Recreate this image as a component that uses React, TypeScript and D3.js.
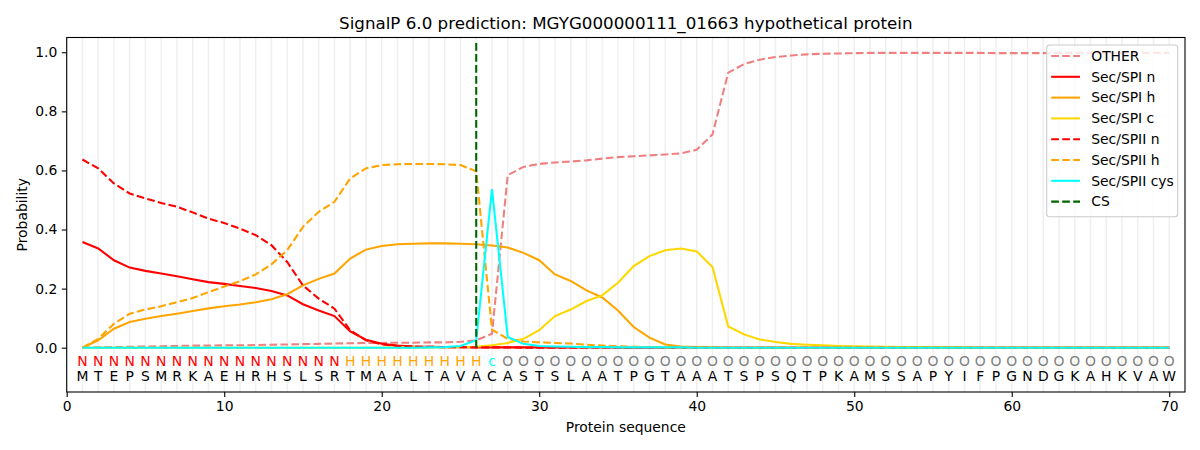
import React, { useEffect, useRef } from "react";
import * as d3 from "d3";

const residues = "MTEPSMRKAEHRHSLSRTMAALTAVACASTSLAATPGTAAATSPSQTPKAMSSAPYIFPGNDGKAHKVAW".split("");
const regionLabels = "NNNNNNNNNNNNNNNNNHHHHHHHHHcOOOOOOOOOOOOOOOOOOOOOOOOOOOOOOOOOOOOOOOOOOO".split("");

const other = [
  0.0, 0.001, 0.002, 0.003, 0.004, 0.005, 0.006, 0.007, 0.007, 0.008,
  0.008, 0.009, 0.01, 0.011, 0.012, 0.013, 0.014, 0.015, 0.016, 0.016,
  0.017, 0.017, 0.018, 0.018, 0.02, 0.025, 0.047, 0.584, 0.612, 0.622,
  0.627, 0.63, 0.634, 0.64, 0.645, 0.648, 0.651, 0.654, 0.658, 0.67,
  0.722, 0.931, 0.96, 0.975, 0.984, 0.989, 0.993, 0.995, 0.996, 0.997,
  0.998, 0.998, 0.998, 0.998, 0.998, 0.998, 0.998, 0.998, 0.997, 0.997,
  0.997, 0.997, 0.998, 0.998, 0.998, 0.998, 0.998, 0.998, 0.998, 0.998,
];
const spiN = [
  0.358, 0.336, 0.296, 0.271, 0.26, 0.251, 0.242, 0.232, 0.222, 0.216,
  0.209, 0.202, 0.192, 0.177, 0.147, 0.126, 0.107, 0.055, 0.027, 0.013,
  0.007, 0.004, 0.003, 0.002, 0.002, 0.001, 0.001, 0.001, 0.001, 0.001,
  0.001, 0.001, 0.001, 0.001, 0.0, 0.0, 0.0, 0.0, 0.0, 0.0,
  0.0, 0.0, 0.0, 0.0, 0.0, 0.0, 0.0, 0.0, 0.0, 0.0,
  0.0, 0.0, 0.0, 0.0, 0.0, 0.0, 0.0, 0.0, 0.0, 0.0,
  0.0, 0.0, 0.0, 0.0, 0.0, 0.0, 0.0, 0.0, 0.0, 0.0,
];
const spiH = [
  0.0, 0.025, 0.064, 0.087, 0.098, 0.107, 0.115, 0.124, 0.133, 0.14,
  0.146, 0.154, 0.164, 0.181, 0.211, 0.233, 0.251, 0.302, 0.332, 0.344,
  0.35, 0.352, 0.353, 0.353, 0.352, 0.35, 0.346, 0.339, 0.321, 0.296,
  0.248, 0.226, 0.194, 0.17, 0.126, 0.07, 0.034, 0.011, 0.004, 0.002,
  0.001, 0.0, 0.0, 0.0, 0.0, 0.0, 0.0, 0.0, 0.0, 0.0,
  0.0, 0.0, 0.0, 0.0, 0.0, 0.0, 0.0, 0.0, 0.0, 0.0,
  0.0, 0.0, 0.0, 0.0, 0.0, 0.0, 0.0, 0.0, 0.0, 0.0,
];
const spiC = [
  0.0, 0.0, 0.0, 0.0, 0.0, 0.0, 0.0, 0.0, 0.0, 0.0,
  0.0, 0.0, 0.0, 0.0, 0.0, 0.0, 0.0, 0.0, 0.0, 0.0,
  0.001, 0.001, 0.001, 0.002, 0.002, 0.003, 0.008, 0.016, 0.03, 0.059,
  0.107, 0.129, 0.158, 0.177, 0.22, 0.276, 0.31, 0.33, 0.336, 0.326,
  0.273, 0.072, 0.045, 0.028, 0.019, 0.013, 0.01, 0.008, 0.006, 0.005,
  0.004, 0.003, 0.002, 0.002, 0.001, 0.001, 0.001, 0.0, 0.0, 0.0,
  0.0, 0.0, 0.0, 0.0, 0.0, 0.0, 0.0, 0.0, 0.0, 0.0,
];
const spiiN = [
  0.637, 0.607, 0.556, 0.522, 0.505, 0.49, 0.477, 0.458, 0.437, 0.422,
  0.403, 0.381, 0.347, 0.29, 0.211, 0.166, 0.132, 0.059, 0.025, 0.011,
  0.006, 0.004, 0.003, 0.002, 0.002, 0.001, 0.001, 0.001, 0.0, 0.0,
  0.0, 0.0, 0.0, 0.0, 0.0, 0.0, 0.0, 0.0, 0.0, 0.0,
  0.0, 0.0, 0.0, 0.0, 0.0, 0.0, 0.0, 0.0, 0.0, 0.0,
  0.0, 0.0, 0.0, 0.0, 0.0, 0.0, 0.0, 0.0, 0.0, 0.0,
  0.0, 0.0, 0.0, 0.0, 0.0, 0.0, 0.0, 0.0, 0.0, 0.0,
];
const spiiH = [
  0.0, 0.03, 0.081, 0.115, 0.129, 0.14, 0.154, 0.168, 0.188, 0.207,
  0.225, 0.248, 0.282, 0.33, 0.409, 0.46, 0.494, 0.573, 0.607, 0.618,
  0.621, 0.622, 0.622, 0.621, 0.618, 0.597, 0.061, 0.03, 0.021, 0.018,
  0.016, 0.014, 0.01, 0.007, 0.005, 0.003, 0.002, 0.001, 0.0, 0.0,
  0.0, 0.0, 0.0, 0.0, 0.0, 0.0, 0.0, 0.0, 0.0, 0.0,
  0.0, 0.0, 0.0, 0.0, 0.0, 0.0, 0.0, 0.0, 0.0, 0.0,
  0.0, 0.0, 0.0, 0.0, 0.0, 0.0, 0.0, 0.0, 0.0, 0.0,
];
const spiiCys = [
  0.0, 0.0, 0.0, 0.0, 0.0, 0.0, 0.0, 0.0, 0.0, 0.0,
  0.0, 0.0, 0.0, 0.0, 0.0, 0.0, 0.0, 0.0, 0.0, 0.0,
  0.0, 0.0, 0.001, 0.002, 0.006, 0.025, 0.537, 0.036, 0.013, 0.006,
  0.004, 0.003, 0.002, 0.002, 0.001, 0.001, 0.001, 0.001, 0.001, 0.0,
  0.0, 0.0, 0.0, 0.0, 0.0, 0.0, 0.0, 0.0, 0.0, 0.0,
  0.0, 0.0, 0.0, 0.0, 0.0, 0.0, 0.0, 0.0, 0.0, 0.0,
  0.0, 0.0, 0.0, 0.0, 0.0, 0.0, 0.0, 0.0, 0.0, 0.0,
];
const cleavageSite = 26;

const series = [
  { name: "OTHER", values: other, color: "#f08080", dashed: true },
  { name: "Sec/SPI n", values: spiN, color: "red", dashed: false },
  { name: "Sec/SPI h", values: spiH, color: "orange", dashed: false },
  { name: "Sec/SPI c", values: spiC, color: "gold", dashed: false },
  { name: "Sec/SPII n", values: spiiN, color: "red", dashed: true },
  { name: "Sec/SPII h", values: spiiH, color: "orange", dashed: true },
  { name: "Sec/SPII cys", values: spiiCys, color: "cyan", dashed: false },
];

const labelColors: Record<string, string> = { N: "red", H: "orange", c: "cyan", O: "gray" };

const xTicks = [0, 10, 20, 30, 40, 50, 60, 70];
const yTicks = [0, 0.2, 0.4, 0.6, 0.8, 1.0];

export default function App() {
  const ref = useRef<SVGSVGElement>(null);

  useEffect(() => {
    const width = 1200;
    const height = 450;
    const marginLeft = 66.7;
    const marginRight = 15;
    const marginTop = 37.5;
    const marginBottom = 58;
    const font = "DejaVu Sans, sans-serif";
    const dash = "7.7,3.3";

    const x = d3.scaleLinear([0, 71], [marginLeft, width - marginRight]);
    const y = d3.scaleLinear([-0.15, 1.05], [height - marginBottom, marginTop]);

    const svg = d3.select(ref.current);
    svg.selectAll("*").remove();
    svg.attr("width", width).attr("height", height).attr("viewBox", [0, 0, width, height]);

    svg.append("rect").attr("width", width).attr("height", height).attr("fill", "white");

    // vertical grid at every residue
    svg
      .append("g")
      .selectAll("line")
      .data(d3.range(0, 71))
      .join("line")
      .attr("x1", (d) => x(d))
      .attr("x2", (d) => x(d))
      .attr("y1", y(1.05))
      .attr("y2", y(-0.15))
      .attr("stroke", "#b0b0b0")
      .attr("stroke-opacity", 0.2)
      .attr("stroke-width", 1.5);

    const line = d3
      .line<number>()
      .x((_, i) => x(i + 1))
      .y((d) => y(d));

    series.forEach((s) => {
      svg
        .append("path")
        .attr("fill", "none")
        .attr("stroke", s.color)
        .attr("stroke-width", 2.08)
        .attr("stroke-dasharray", s.dashed ? dash : null)
        .attr("d", line(s.values));
    });

    // cleavage site
    svg
      .append("line")
      .attr("x1", x(cleavageSite))
      .attr("x2", x(cleavageSite))
      .attr("y1", y(0))
      .attr("y2", y(1.04))
      .attr("stroke", "darkgreen")
      .attr("stroke-width", 2.08)
      .attr("stroke-dasharray", dash);

    // sequence labels
    const seq = svg.append("g").attr("font-family", font).attr("font-size", 13.9).attr("text-anchor", "middle");
    seq
      .selectAll("text.lab")
      .data(regionLabels)
      .join("text")
      .attr("class", "lab")
      .attr("x", (_, i) => x(i + 1))
      .attr("y", y(0) + 18.7)
      .attr("fill", (d) => labelColors[d])
      .text((d) => d);
    seq
      .selectAll("text.res")
      .data(residues)
      .join("text")
      .attr("class", "res")
      .attr("x", (_, i) => x(i + 1))
      .attr("y", y(0) + 33.7)
      .attr("fill", "black")
      .text((d) => d);

    // axes
    const xAxis = svg
      .append("g")
      .attr("transform", `translate(0,${height - marginBottom})`)
      .call(d3.axisBottom(x).tickValues(xTicks).tickFormat(d3.format("d")).tickSizeOuter(0).tickSize(4.9).tickPadding(4.5));
    const yAxis = svg
      .append("g")
      .attr("transform", `translate(${marginLeft},0)`)
      .call(d3.axisLeft(y).tickValues(yTicks).tickFormat(d3.format(".1f")).tickSizeOuter(0).tickSize(4.9).tickPadding(4.5));
    [xAxis, yAxis].forEach((g) => {
      g.attr("font-family", font).attr("font-size", 13.9);
      g.select(".domain").remove();
      g.selectAll(".tick line").attr("stroke-width", 1.1);
      g.selectAll(".tick text").attr("fill", "black");
    });

    // frame
    svg
      .append("rect")
      .attr("x", marginLeft)
      .attr("y", marginTop)
      .attr("width", width - marginRight - marginLeft)
      .attr("height", height - marginBottom - marginTop)
      .attr("fill", "none")
      .attr("stroke", "black")
      .attr("stroke-width", 1.1);

    // titles
    svg
      .append("text")
      .attr("x", (marginLeft + width - marginRight) / 2)
      .attr("y", 29)
      .attr("text-anchor", "middle")
      .attr("font-family", font)
      .attr("font-size", 16.7)
      .text("SignalP 6.0 prediction: MGYG000000111_01663 hypothetical protein");
    svg
      .append("text")
      .attr("x", (marginLeft + width - marginRight) / 2)
      .attr("y", 432)
      .attr("text-anchor", "middle")
      .attr("font-family", font)
      .attr("font-size", 13.9)
      .text("Protein sequence");
    svg
      .append("text")
      .attr("transform", `translate(27,${(marginTop + height - marginBottom) / 2}) rotate(-90)`)
      .attr("text-anchor", "middle")
      .attr("font-family", font)
      .attr("font-size", 13.9)
      .text("Probability");

    // legend
    const legendItems = [
      ...series.map((s) => ({ name: s.name, color: s.color, dashed: s.dashed })),
      { name: "CS", color: "darkgreen", dashed: true },
    ];
    const lg = svg.append("g").attr("transform", "translate(1046.7,45)");
    lg.append("rect")
      .attr("width", 131)
      .attr("height", 171.7)
      .attr("rx", 3)
      .attr("fill", "white")
      .attr("fill-opacity", 0.8)
      .attr("stroke", "#cccccc")
      .attr("stroke-width", 1.1);
    const item = lg
      .selectAll("g.item")
      .data(legendItems)
      .join("g")
      .attr("class", "item")
      .attr("transform", (_, i) => `translate(0,${11 + i * 20.8})`);
    item
      .append("line")
      .attr("x1", 4.5)
      .attr("x2", 33.3)
      .attr("stroke", (d) => d.color)
      .attr("stroke-width", 2.08)
      .attr("stroke-dasharray", (d) => (d.dashed ? dash : null));
    item
      .append("text")
      .attr("x", 44.5)
      .attr("dy", "0.35em")
      .attr("font-family", font)
      .attr("font-size", 13.9)
      .text((d) => d.name);
  }, []);

  return <svg ref={ref} style={{ position: "absolute", left: 0, top: 0 }} />;
}
